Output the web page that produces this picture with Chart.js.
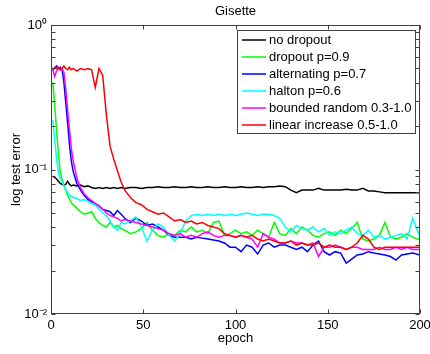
<!DOCTYPE html>
<html><head><meta charset="utf-8">
<script src="https://cdn.jsdelivr.net/npm/chart.js@4.4.1/dist/chart.umd.min.js"></script>
<style>html,body{margin:0;padding:0;background:#fff;}canvas{display:block;}</style>
</head><body>
<canvas id="c" width="430" height="354"></canvas>
<script>
const epochs = [1,2,3,4,5,6,7,8,9,10,11,12,
  14,16,18,20,22,24,26,28,30,32,34,36,38,40,
  43,46,49,52,55,58,61,64,67,70,73,76,79,82,85,88,91,94,97,100,103,106,109,112,115,118,121,124,127,130,
  133,136,139,142,145,148,151,154,157,160,163,166,169,172,175,178,181,184,187,190,193,196,200];

const noDropout = [0.090,0.088,0.086,0.083,0.080,0.079,0.078,0.079,0.083,0.079,0.077,0.078,
  0.077,0.078,0.076,0.077,0.075,0.074,0.075,0.074,0.075,0.074,0.075,0.074,0.075,0.074,
  0.075,0.075,0.074,0.075,0.075,0.076,0.075,0.075,0.076,0.075,0.075,0.076,0.075,0.075,0.076,0.075,0.075,0.076,0.075,0.075,0.076,0.075,0.075,0.076,0.075,0.076,0.076,0.077,0.076,0.072,
  0.069,0.072,0.072,0.072,0.074,0.072,0.072,0.072,0.072,0.073,0.072,0.072,0.074,0.071,0.071,0.070,0.069,0.069,0.069,0.069,0.069,0.069,0.069];

const dropout09 = [0.40,0.28,0.19,0.13,0.096,0.085,0.078,0.072,0.066,0.063,0.059,0.057,
  0.054,0.051,0.049,0.050,0.051,0.046,0.043,0.041,0.040,0.043,0.040,0.041,0.039,0.038,
  0.036,0.037,0.039,0.043,0.038,0.035,0.034,0.036,0.035,0.038,0.037,0.040,0.037,0.038,0.036,0.043,0.044,0.035,0.036,0.038,0.036,0.037,0.035,0.038,0.036,0.034,0.043,0.036,0.035,0.039,
  0.036,0.040,0.038,0.035,0.034,0.036,0.037,0.035,0.038,0.036,0.039,0.043,0.033,0.032,0.033,0.035,0.043,0.034,0.033,0.034,0.036,0.034,0.0325];

const alternating07 = [0.49,0.50,0.52,0.50,0.51,0.49,0.40,0.29,0.21,0.15,0.115,0.097,
  0.080,0.072,0.066,0.062,0.060,0.058,0.056,0.053,0.052,0.051,0.048,0.052,0.049,0.046,
  0.043,0.046,0.044,0.041,0.042,0.040,0.038,0.035,0.034,0.034,0.034,0.033,0.034,0.0335,0.033,0.0325,0.032,0.031,0.029,0.029,0.027,0.030,0.029,0.026,0.030,0.031,0.029,0.030,0.030,0.029,
  0.028,0.029,0.027,0.030,0.032,0.027,0.0256,0.027,0.0264,0.0225,0.024,0.0256,0.026,0.027,0.0264,0.026,0.0256,0.025,0.0236,0.0256,0.026,0.0264,0.0256];

const halton06 = [0.22,0.16,0.12,0.095,0.087,0.082,0.077,0.073,0.069,0.067,0.065,0.064,
  0.063,0.061,0.062,0.060,0.058,0.057,0.053,0.050,0.048,0.044,0.040,0.038,0.043,0.042,
  0.044,0.047,0.040,0.032,0.038,0.042,0.040,0.035,0.032,0.036,0.044,0.048,0.049,0.048,0.049,0.048,0.049,0.048,0.049,0.048,0.049,0.050,0.049,0.048,0.049,0.049,0.048,0.046,0.040,0.037,
  0.041,0.039,0.038,0.040,0.037,0.039,0.035,0.037,0.036,0.038,0.040,0.036,0.035,0.038,0.034,0.035,0.033,0.034,0.035,0.036,0.033,0.046,0.034];

const boundedRandom = [0.49,0.44,0.48,0.50,0.49,0.50,0.47,0.36,0.26,0.19,0.14,0.115,
  0.087,0.075,0.068,0.064,0.061,0.058,0.056,0.053,0.050,0.048,0.047,0.046,0.044,0.045,
  0.044,0.043,0.042,0.041,0.040,0.039,0.038,0.036,0.035,0.036,0.034,0.035,0.034,0.036,0.037,0.035,0.034,0.035,0.035,0.034,0.035,0.034,0.033,0.029,0.036,0.034,0.033,0.031,0.031,0.032,
  0.031,0.031,0.030,0.031,0.025,0.029,0.029,0.030,0.029,0.028,0.029,0.029,0.028,0.028,0.028,0.029,0.028,0.028,0.029,0.028,0.029,0.028,0.028];

const linearIncrease = [0.49,0.51,0.50,0.51,0.49,0.50,0.52,0.50,0.49,0.51,0.49,0.50,
  0.48,0.50,0.49,0.50,0.49,0.37,0.50,0.45,0.24,0.145,0.118,0.098,0.082,0.072,
  0.064,0.059,0.057,0.053,0.051,0.049,0.050,0.047,0.044,0.045,0.043,0.044,0.042,0.043,0.041,0.040,0.039,0.036,0.035,0.034,0.035,0.034,0.035,0.033,0.032,0.033,0.032,0.031,0.031,0.032,
  0.030,0.031,0.030,0.030,0.031,0.029,0.030,0.029,0.029,0.028,0.029,0.031,0.035,0.033,0.029,0.028,0.029,0.029,0.029,0.029,0.029,0.029,0.029];

const seriesLabels = ['no dropout','dropout p=0.9','alternating p=0.7','halton p=0.6','bounded random 0.3-1.0','linear increase 0.5-1.0'];
const yTickValues = [0.01, 0.1, 1];
const yTickLabels = ['10\u207B\u00B2', '10\u207B\u00B9', '10\u2070'];

const FONT = '"Liberation Sans", Arial, sans-serif';
Chart.defaults.font.family = FONT;
Chart.defaults.font.size = 13;
Chart.defaults.color = '#000';

const pts = arr => epochs.map((e, i) => ({x: e, y: arr[i]}));
const mk = (label, arr, color, order) => ({label, data: pts(arr), borderColor: color, backgroundColor: color,
  borderWidth: 1.5, pointRadius: 0, tension: 0, fill: false, order});

const framePlugin = {
  id: 'frame',
  afterDraw(chart) {
    const {ctx, chartArea: a, scales: {x, y}} = chart;
    ctx.save();
    ctx.strokeStyle = '#404040';
    ctx.lineWidth = 1;
    const L = Math.round(a.left) + 0.5, R = Math.round(a.right) - 0.5;
    const T = Math.round(a.top) + 0.5, B = Math.round(a.bottom) - 0.5;
    ctx.strokeRect(L, T, R - L, B - T);
    const tl = 4;
    ctx.beginPath();
    x.ticks.forEach(t => {
      const px = Math.round(x.getPixelForValue(t.value)) + 0.5;
      ctx.moveTo(px, B); ctx.lineTo(px, B - tl);
      ctx.moveTo(px, T); ctx.lineTo(px, T + tl);
    });
    for (let d = -2; d < 0; d++) for (let k = 1; k < 10; k++) {
      const py = Math.round(y.getPixelForValue(k * Math.pow(10, d))) + 0.5;
      ctx.moveTo(L, py); ctx.lineTo(L + tl, py);
      ctx.moveTo(R, py); ctx.lineTo(R - tl, py);
    }
    ctx.stroke();
    // legend
    const lx = 237.5, ly = 30.5, lw = 178, lh = 103;
    ctx.fillStyle = '#fff';
    ctx.fillRect(lx, ly, lw, lh);
    ctx.strokeRect(lx, ly, lw, lh);
    ctx.font = '13px ' + FONT;
    ctx.textBaseline = 'middle';
    ctx.textAlign = 'left';
    chart.data.datasets.forEach((ds, i) => {
      const yy = 40 + i * 17;
      ctx.strokeStyle = ds.borderColor;
      ctx.lineWidth = 1.5;
      ctx.beginPath(); ctx.moveTo(242, yy); ctx.lineTo(266, yy); ctx.stroke();
      ctx.fillStyle = '#000';
      ctx.fillText(ds.label, 269, yy);
    });
    ctx.restore();
  }
};

new Chart(document.getElementById('c'), {
  type: 'line',
  data: {
    datasets: [
      mk(seriesLabels[0], noDropout, '#000000', 5),
      mk(seriesLabels[1], dropout09, '#00ff00', 4),
      mk(seriesLabels[2], alternating07, '#0000ff', 3),
      mk(seriesLabels[3], halton06, '#00ffff', 2),
      mk(seriesLabels[4], boundedRandom, '#ff00ff', 1),
      mk(seriesLabels[5], linearIncrease, '#ff0000', 0)
    ]
  },
  options: {
    responsive: false,
    animation: false,
    devicePixelRatio: 1,
    layout: {padding: {left: 0, right: 10, top: 0, bottom: 0}},
    plugins: {
      legend: {display: false},
      tooltip: {enabled: false},
      title: {display: true, text: 'Gisette', color: '#000', fullSize: false,
        font: {size: 13, weight: 'normal'}, padding: {top: 4, bottom: 5.4}}
    },
    scales: {
      x: {
        type: 'linear', min: 0, max: 200,
        grid: {display: false, drawTicks: false}, border: {display: false},
        ticks: {stepSize: 50, padding: 4, color: '#000', maxRotation: 0, autoSkip: false},
        title: {display: true, text: 'epoch', color: '#000', padding: {top: 0, bottom: 8}},
        afterFit(s) { s.height = 40; s.paddingLeft = 0; s.paddingRight = 0; }
      },
      y: {
        type: 'logarithmic', min: 0.01, max: 1,
        grid: {display: false, drawTicks: false}, border: {display: false},
        afterBuildTicks(s) { s.ticks = yTickValues.map(v => ({value: v})); },
        ticks: {padding: 4, color: '#000', autoSkip: false,
          callback: (v) => { const i = yTickValues.findIndex(t => Math.abs(t - v) < t * 1e-6); return i >= 0 ? yTickLabels[i] : ''; }},
        title: {display: true, text: 'log test error', color: '#000', padding: {top: 9, bottom: 0}},
        afterFit(s) { s.width = 51; s.paddingTop = 0; s.paddingBottom = 0; }
      }
    }
  },
  plugins: [framePlugin]
});
</script>
</body></html>
